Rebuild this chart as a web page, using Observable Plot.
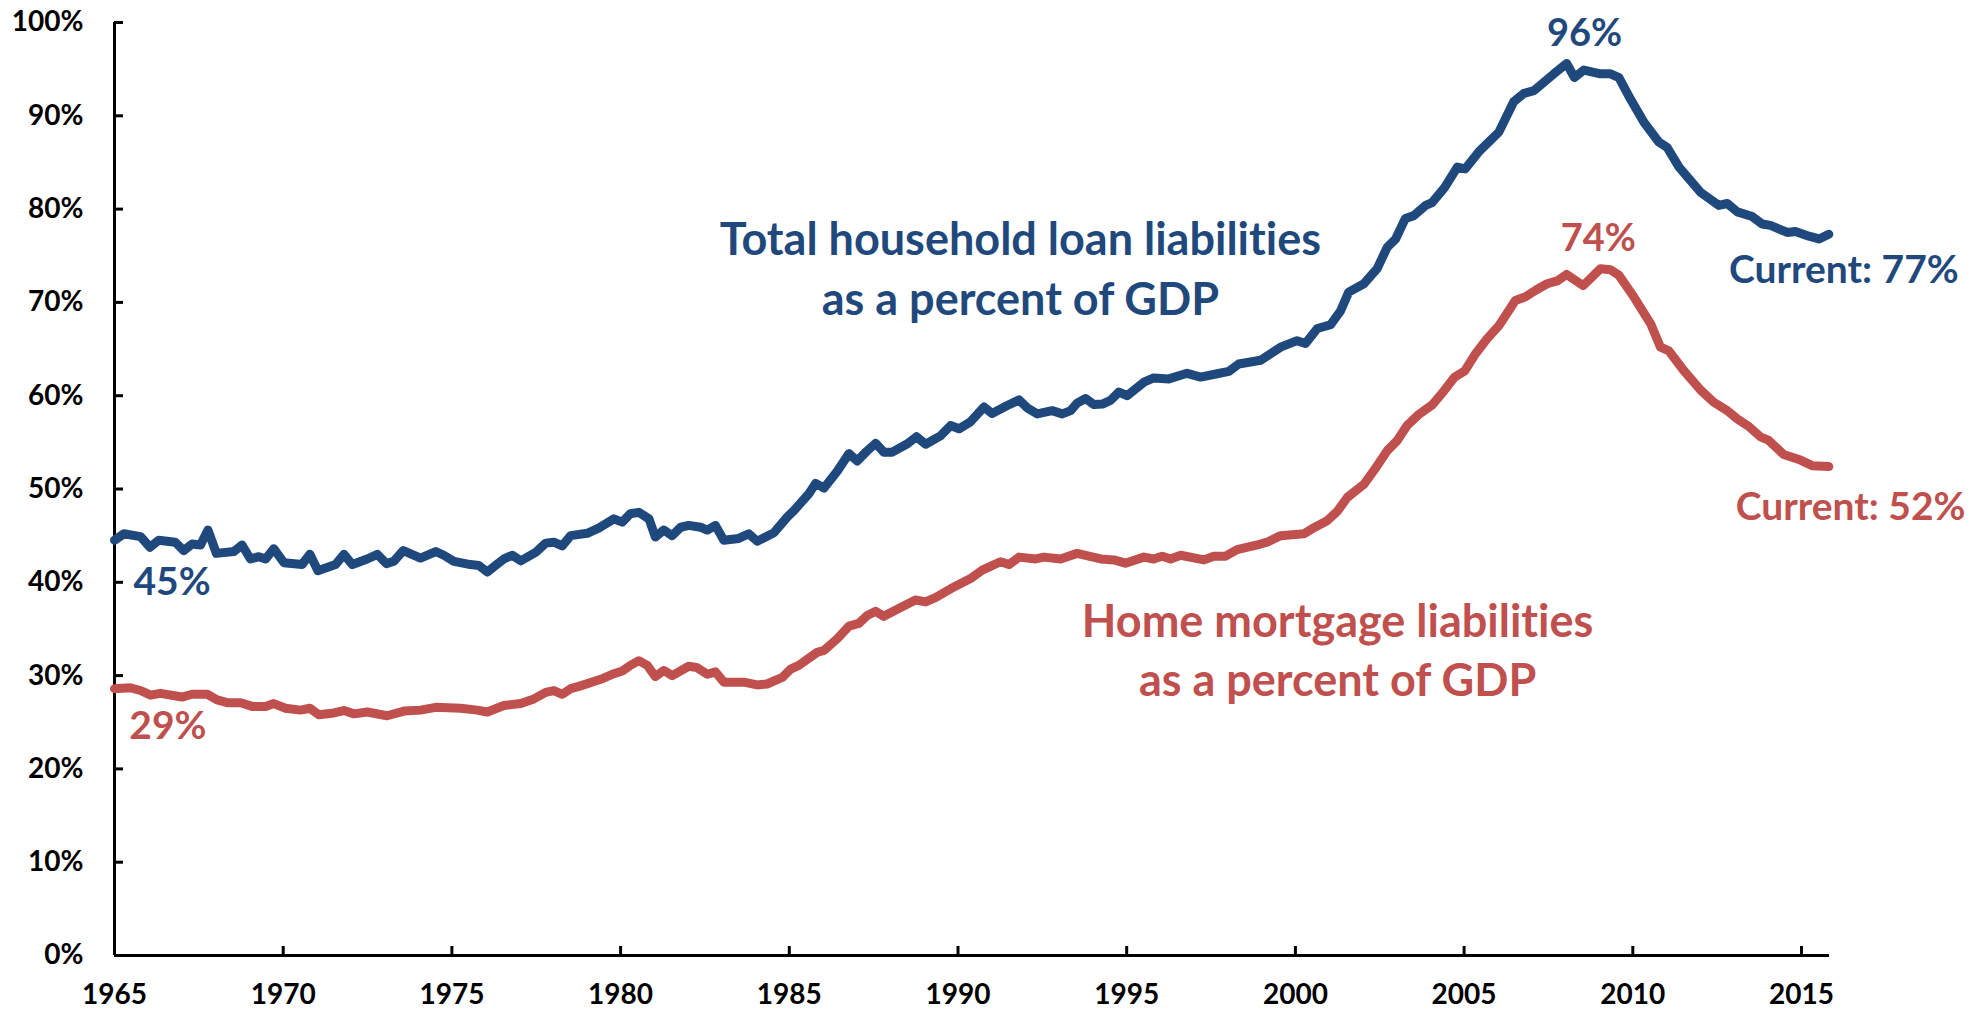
<!DOCTYPE html>
<html><head><meta charset="utf-8">
<script src="https://cdn.jsdelivr.net/npm/d3@7"></script>
<script src="https://cdn.jsdelivr.net/npm/@observablehq/plot@0.6"></script>
<style>
html,body{margin:0;padding:0;background:#fff;}
#chart svg{display:block;}
#chart svg text{font-variant-ligatures:none;font-feature-settings:"liga" 0,"clig" 0,"dlig" 0;}
</style>
</head><body><div id="chart"></div>
<script>
// Total household loan liabilities as % of GDP
const totalYears = [1965.00,1965.28,1965.77,1966.05,1966.31,1966.80,1967.05,1967.30,1967.55,1967.77,1968.02,1968.54,1968.78,1969.03,1969.28,1969.48,1969.72,1970.02,1970.56,1970.79,1971.03,1971.55,1971.80,1972.05,1972.49,1972.79,1973.06,1973.28,1973.56,1974.07,1974.52,1974.76,1975.06,1975.55,1975.80,1976.05,1976.29,1976.54,1976.79,1977.04,1977.48,1977.78,1978.02,1978.27,1978.52,1979.01,1979.35,1979.80,1980.05,1980.29,1980.54,1980.84,1981.03,1981.28,1981.53,1981.78,1982.02,1982.37,1982.57,1982.81,1983.06,1983.50,1983.80,1984.05,1984.54,1984.94,1985.14,1985.58,1985.78,1986.03,1986.42,1986.77,1987.01,1987.31,1987.56,1987.80,1988.05,1988.50,1988.77,1989.04,1989.48,1989.78,1990.03,1990.37,1990.77,1991.01,1991.46,1991.81,1992.05,1992.35,1992.79,1993.09,1993.34,1993.53,1993.78,1994.03,1994.28,1994.52,1994.77,1995.01,1995.51,1995.80,1996.25,1996.79,1997.19,1997.68,1998.03,1998.32,1998.97,1999.56,2000.05,2000.30,2000.65,2001.04,2001.34,2001.58,2002.03,2002.42,2002.72,2002.97,2003.26,2003.51,2003.86,2004.05,2004.42,2004.80,2005.03,2005.45,2006.03,2006.47,2006.77,2007.07,2007.66,2008.04,2008.27,2008.55,2009.04,2009.34,2009.59,2009.93,2010.33,2010.77,2011.02,2011.37,2012.01,2012.55,2012.80,2013.10,2013.54,2013.84,2014.08,2014.58,2014.82,2015.22,2015.52,2015.81];
const totalValues = [44.5,45.2,44.9,43.75,44.5,44.3,43.4,44.1,44.0,45.6,43.1,43.3,44.0,42.5,42.75,42.5,43.6,42.1,41.9,43.0,41.25,41.9,43.0,41.9,42.5,43.0,42.0,42.25,43.4,42.6,43.3,42.9,42.25,41.9,41.8,41.1,41.8,42.5,42.9,42.3,43.2,44.2,44.3,43.9,45.0,45.25,45.8,46.8,46.45,47.35,47.5,46.8,44.85,45.6,45.0,45.9,46.1,45.9,45.6,46.1,44.5,44.7,45.2,44.4,45.3,47.0,47.7,49.5,50.6,50.1,51.9,53.8,53.0,54.1,54.9,53.95,53.95,54.85,55.6,54.8,55.7,56.8,56.45,57.2,58.8,58.1,58.95,59.55,58.7,58.05,58.4,58.05,58.4,59.2,59.7,59.05,59.1,59.5,60.4,60.0,61.45,61.9,61.8,62.4,62.0,62.35,62.6,63.4,63.8,65.2,65.9,65.6,67.2,67.6,69.1,71.1,72.0,73.6,75.9,76.8,79.0,79.3,80.4,80.7,82.3,84.5,84.3,86.2,88.25,91.5,92.4,92.7,94.5,95.6,94.1,94.9,94.5,94.5,94.1,91.8,89.3,87.2,86.6,84.5,81.8,80.4,80.6,79.7,79.2,78.4,78.25,77.5,77.6,77.1,76.8,77.3];

// Home mortgage liabilities as % of GDP
const mortgageYears = [1965.00,1965.47,1965.77,1966.07,1966.36,1967.00,1967.30,1967.75,1968.04,1968.34,1968.74,1969.08,1969.48,1969.72,1970.07,1970.51,1970.79,1971.06,1971.50,1971.80,1972.10,1972.49,1973.08,1973.58,1974.07,1974.52,1975.26,1975.75,1976.05,1976.54,1977.04,1977.43,1977.78,1978.02,1978.27,1978.52,1978.81,1979.41,1979.80,1980.05,1980.29,1980.54,1980.79,1981.03,1981.28,1981.53,1982.02,1982.27,1982.57,1982.81,1983.06,1983.65,1984.05,1984.34,1984.79,1985.04,1985.28,1985.83,1986.03,1986.42,1986.77,1987.06,1987.31,1987.56,1987.80,1988.30,1988.74,1989.04,1989.33,1989.78,1990.37,1990.72,1990.96,1991.26,1991.51,1991.81,1992.30,1992.55,1993.04,1993.53,1994.23,1994.62,1994.96,1995.51,1995.80,1996.05,1996.30,1996.60,1997.29,1997.58,1997.93,1998.27,1998.87,1999.16,1999.56,2000.25,2000.55,2000.94,2001.24,2001.54,2002.03,2002.37,2002.72,2003.02,2003.31,2003.66,2004.05,2004.40,2004.72,2005.02,2005.34,2005.68,2006.03,2006.52,2006.82,2007.12,2007.46,2007.76,2008.04,2008.53,2009.04,2009.34,2009.59,2010.03,2010.53,2010.82,2011.07,2011.51,2012.01,2012.40,2012.80,2013.10,2013.44,2013.78,2014.03,2014.47,2014.97,2015.32,2015.81];
const mortgageValues = [28.6,28.7,28.4,27.9,28.1,27.7,28.0,28.0,27.4,27.1,27.1,26.7,26.7,27.0,26.5,26.3,26.5,25.8,26.0,26.25,25.9,26.1,25.7,26.2,26.3,26.6,26.5,26.3,26.1,26.8,27.0,27.5,28.2,28.4,28.0,28.6,28.9,29.6,30.2,30.5,31.1,31.6,31.1,29.9,30.55,30.0,31.0,30.85,30.15,30.4,29.3,29.3,29.0,29.1,29.8,30.7,31.1,32.5,32.7,33.95,35.3,35.6,36.45,36.9,36.35,37.3,38.1,37.9,38.35,39.3,40.4,41.3,41.7,42.2,41.9,42.7,42.5,42.7,42.5,43.1,42.5,42.4,42.05,42.7,42.5,42.8,42.5,42.9,42.4,42.8,42.8,43.5,44.0,44.3,45.0,45.2,45.85,46.6,47.6,49.1,50.5,52.2,54.1,55.2,56.8,58.0,59.0,60.5,62.0,62.65,64.5,66.1,67.5,70.2,70.6,71.3,72.0,72.3,73.0,71.8,73.6,73.5,72.9,70.6,67.7,65.2,64.8,62.7,60.6,59.3,58.4,57.5,56.7,55.6,55.2,53.7,53.1,52.5,52.4];

const yTicks = [0,10,20,30,40,50,60,70,80,90,100];
const xTicks = [1965,1970,1975,1980,1985,1990,1995,2000,2005,2010,2015];

// Annotations (data-space anchors)
const blueLabels = ["Total household loan liabilities","as a percent of GDP"];
const redLabels = ["Home mortgage liabilities","as a percent of GDP"];
const blueValueLabels = [
  {x: 1965.56, y: 40.0, text: "45%", anchor: "start"},
  {x: 2008.57, y: 98.8, text: "96%", anchor: "middle"},
  {x: 2012.85, y: 73.4, text: "Current: 77%", anchor: "start"}
];
const redValueLabels = [
  {x: 1965.44, y: 24.5, text: "29%", anchor: "start"},
  {x: 2008.98, y: 76.85, text: "74%", anchor: "middle"},
  {x: 2013.05, y: 48.0, text: "Current: 52%", anchor: "start"}
];

const BLUE = "#1F497D", RED = "#C0504D";
const W = 1986, H = 1010, ML = 114, MR = 157, MT = 22, MB = 55;
const FONT = "Lato, 'Open Sans', sans-serif";

const total = totalYears.map((x, i) => ({year: x, value: totalValues[i]}));
const mortgage = mortgageYears.map((x, i) => ({year: x, value: mortgageValues[i]}));
const blueTitle = blueLabels.map((t, i) => ({x: 1991.85, y: [76.6, 70.2][i], text: t}));
const redTitle = redLabels.map((t, i) => ({x: 2001.25, y: [35.7, 29.4][i], text: t}));

const plot = Plot.plot({
  width: W, height: H,
  marginLeft: ML, marginRight: MR, marginTop: MT, marginBottom: MB,
  x: {domain: [1965, 2015.83], axis: null},
  y: {domain: [0, 100], axis: null},
  style: {fontFamily: FONT, background: "#fff", overflow: "visible"},
  marks: [
    Plot.tickY(yTicks, {y: d => d, stroke: "#000", strokeWidth: 3, insetRight: W - ML - MR - 9}),
    Plot.tickX(xTicks, {x: d => d, stroke: "#000", strokeWidth: 3, insetTop: H - MT - MB - 9}),
    Plot.ruleX([1965], {stroke: "#000", strokeWidth: 3}),
    Plot.ruleY([0], {stroke: "#000", strokeWidth: 3}),
    Plot.line(mortgage, {x: "year", y: "value", stroke: RED, strokeWidth: 9, strokeLinejoin: "round", strokeLinecap: "round"}),
    Plot.line(total, {x: "year", y: "value", stroke: BLUE, strokeWidth: 9, strokeLinejoin: "round", strokeLinecap: "round"}),
    Plot.text(yTicks, {x: 1965, y: d => d, text: d => d + "%", textAnchor: "end", dx: -31, fontSize: 28, fontWeight: "bold", fill: "#000"}),
    Plot.text(xTicks, {x: d => d, y: 0, text: d => String(d), dy: 40, fontSize: 28, fontWeight: "bold", fill: "#000"}),
    Plot.text(blueTitle, {x: "x", y: "y", text: "text", fontSize: 45, fontWeight: "bold", fill: BLUE, textAnchor: "middle"}),
    Plot.text(redTitle, {x: "x", y: "y", text: "text", fontSize: 45, fontWeight: "bold", fill: RED, textAnchor: "middle"}),
    Plot.text(blueValueLabels.filter(d => d.anchor === "start"), {x: "x", y: "y", text: "text", fontSize: 39, fontWeight: "bold", fill: BLUE, textAnchor: "start"}),
    Plot.text(blueValueLabels.filter(d => d.anchor === "middle"), {x: "x", y: "y", text: "text", fontSize: 38, fontWeight: "bold", fill: BLUE, textAnchor: "middle"}),
    Plot.text(redValueLabels.filter(d => d.anchor === "start"), {x: "x", y: "y", text: "text", fontSize: 39, fontWeight: "bold", fill: RED, textAnchor: "start"}),
    Plot.text(redValueLabels.filter(d => d.anchor === "middle"), {x: "x", y: "y", text: "text", fontSize: 38, fontWeight: "bold", fill: RED, textAnchor: "middle"})
  ]
});
document.getElementById("chart").appendChild(plot);
</script>
</body></html>
